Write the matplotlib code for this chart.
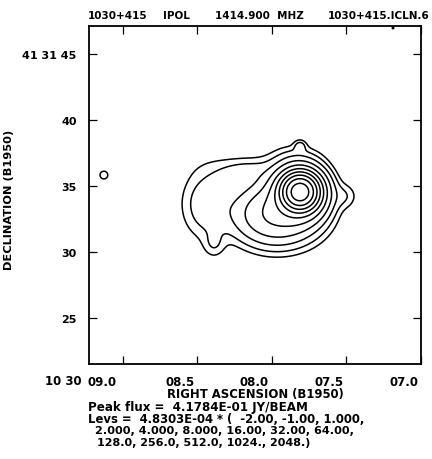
import numpy as np
import matplotlib
matplotlib.use('Agg')
import matplotlib.pyplot as plt
import matplotlib.transforms as mtransforms

# ── map header / footer values ──────────────────────────────────────────
SOURCE = '1030+415'
STOKES = 'IPOL'
FREQ = '1414.900  MHZ'
IMAGE = '1030+415.ICLN.6'
PEAK_FLUX = 4.1784E-01          # JY/BEAM
BASE_LEVEL = 4.8303E-04
LEV_MULT = [-2.0, -1.0, 1.0, 2.0, 4.0, 8.0, 16.0, 32.0, 64.0,
            128.0, 256.0, 512.0, 1024.0, 2048.0]

# axis ticks (RA seconds of 10 30, Dec arcsec of 41 31)
RA_TICKS = [9.0, 8.5, 8.0, 7.5, 7.0]
RA_LABELS = ['09.0', '08.5', '08.0', '07.5', '07.0']
DEC_TICKS = [25, 30, 35, 40, 45]
DEC_LABELS = ['25', '30', '35', '40', '41 31 45']
RA_LIM = (9.228, 7.0)
DEC_LIM = (21.52, 47.12)

# ── source model components (amp in units of BASE_LEVEL)
#            core   halo   plat   lobe   tail   knob   north  west   bridge blob   dot
COMP_RA  = [7.812, 7.812, 7.967, 8.436, 8.389, 7.812, 7.859, 7.510, 8.181, 9.128, 7.188]
COMP_DEC = [34.55, 34.50, 32.88, 33.64, 30.61, 38.03, 37.05, 34.24, 36.14, 35.83, 46.97]
COMP_AMP = [790.0, 80.0, 18.0, 3.3, 1.6, 2.2, 1.6, 1.6, 2.4, 1.6, 1.15]
COMP_SX  = [0.61, 1.06, 1.85, 1.21, 0.53, 0.30, 1.36, 0.61, 1.67, 0.30, 0.11]   # arcsec
COMP_SY  = [0.61, 1.06, 1.36, 1.67, 0.68, 0.30, 0.76, 0.61, 0.68, 0.30, 0.11]   # arcsec

COS_DEC = np.cos(np.radians(41.0 + 31.0 / 60 + 35.0 / 3600))


def build_map():
    ra = np.linspace(RA_LIM[1], RA_LIM[0], 700)
    dec = np.linspace(DEC_LIM[0], DEC_LIM[1], 700)
    RA, DEC = np.meshgrid(ra, dec)
    img = np.zeros_like(RA)
    for r0, d0, a, sx, sy in zip(COMP_RA, COMP_DEC, COMP_AMP, COMP_SX, COMP_SY):
        dx = (RA - r0) * 15.0 * COS_DEC
        dy = DEC - d0
        img += a * np.exp(-0.5 * ((dx / sx) ** 2 + (dy / sy) ** 2))
    return RA, DEC, img * BASE_LEVEL


RA, DEC, img = build_map()
levels = [m * BASE_LEVEL for m in LEV_MULT]


def font(size):
    return dict(family='DejaVu Sans', fontweight='bold', fontsize=size, color='black')


fig = plt.figure(figsize=(4.32, 4.60), dpi=100)
fig.patch.set_facecolor('white')
ax = fig.add_axes([89 / 432, 1 - 365 / 460, 332 / 432, 338 / 460])

neg = [l for l in levels if l < 0]
pos = [l for l in levels if l > 0]
ax.contour(RA, DEC, img, levels=pos, colors='black', linewidths=1.1)
if img.min() < neg[-1]:
    ax.contour(RA, DEC, img, levels=neg, colors='black', linewidths=1.1,
               linestyles='dashed')

ax.set_xlim(*RA_LIM)
ax.set_ylim(*DEC_LIM)

ax.set_xticks(RA_TICKS)
ax.set_xticklabels(RA_LABELS, ha='right', **font(8.5))
ax.set_yticks(DEC_TICKS)
ax.set_yticklabels(DEC_LABELS, **font(8.0))
ax.tick_params(direction='in', length=5.5, width=0.9, top=True, right=True,
               pad=9)
ax.tick_params(axis='x', pad=8)
off = mtransforms.ScaledTranslation(-3 / 100, 0, fig.dpi_scale_trans)
first = mtransforms.ScaledTranslation(-6 / 100, 0, fig.dpi_scale_trans)
for i, lab in enumerate(ax.get_xticklabels()):
    lab.set_transform(lab.get_transform() + (first if i == 0 else off))
for sp in ax.spines.values():
    sp.set_linewidth(1.3)

ax.set_xlabel('RIGHT ASCENSION (B1950)', labelpad=-1, **font(8.4))
ax.set_ylabel('DECLINATION (B1950)', **font(8.2))
ax.yaxis.set_label_coords((14 - 89) / 332, 0.49)

# RA hours/minutes prefix in front of the first tick label
fig.text(45 / 432, 1 - 382 / 460, '10 30', ha='left', va='center', **font(8.5))

# header line
fig.text(88 / 432, 1 - 16 / 460, SOURCE, ha='left', va='center', **font(7.5))
fig.text(163 / 432, 1 - 16 / 460, STOKES, ha='left', va='center', **font(7.5))
fig.text(215 / 432, 1 - 16 / 460, FREQ, ha='left', va='center', **font(7.5))
fig.text(430 / 432, 1 - 16 / 460, IMAGE, ha='right', va='center', **font(7.5))

# footer with peak flux and contour levels
fig.text(88 / 432, 1 - 408 / 460, f'Peak flux =  {PEAK_FLUX:.4E} JY/BEAM',
         ha='left', va='center', **font(8.6))


def fmt(v):
    if abs(v) < 10:
        return f'{v:.3f}' if v > 0 else f'{v:.2f}'
    if abs(v) < 100:
        return f'{v:.2f}'
    if abs(v) < 1000:
        return f'{v:.1f}'
    return f'{v:.0f}.'


vals = [fmt(m) for m in LEV_MULT]
line1 = f'Levs =  {BASE_LEVEL:.4E} * (  ' + ', '.join(vals[:3]) + ','
line2 = ', '.join(vals[3:9]) + ','
line3 = ', '.join(vals[9:]) + ')'
fig.text(88 / 432, 1 - 420 / 460, line1, ha='left', va='center', **font(8.4))
fig.text(95 / 432, 1 - 431 / 460, line2, ha='left', va='center', **font(8.1))
fig.text(97 / 432, 1 - 443 / 460, line3, ha='left', va='center', **font(8.0))

fig.savefig('out.png', dpi=100)
